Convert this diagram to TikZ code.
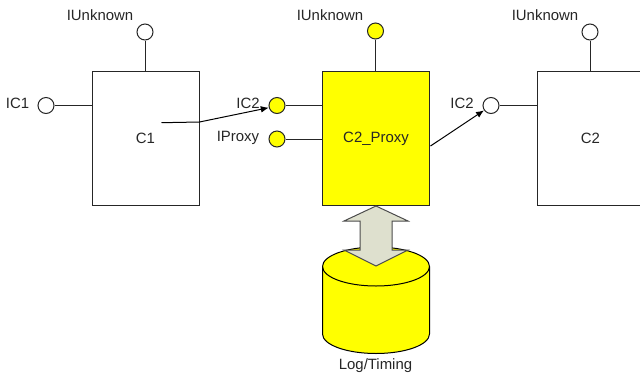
\documentclass[tikz,border=0pt]{standalone}
\usepackage{fontspec}
\setmainfont{Liberation Sans}
\usetikzlibrary{arrows.meta}
\definecolor{logyellow}{RGB}{255,255,0}
\definecolor{pipegrey}{RGB}{222,224,206}

\begin{document}
\begin{tikzpicture}[x=0.75pt,y=-0.75pt,line width=0.75pt,
    comp/.style={draw=black!85,minimum width=80.25pt,minimum height=100.5pt,inner sep=0pt},
    port/.style={circle,draw=black!85,fill=white,minimum size=12pt,inner sep=0pt},
    proxyport/.style={port,fill=logyellow},
    lbl/.style={inner sep=0pt,font=\fontsize{11.2}{13}\selectfont,text=black!85},
    call/.style={-{Latex[length=6pt,width=5pt]},black}]
  \useasboundingbox (0,0) rectangle (640,376);
  % components
  \node[comp,lbl] (C1) at (145.5,138.5) {C1};
  \node[comp,lbl,fill=logyellow] (Proxy) at (376,138.5) {C2\_Proxy};
  \node[comp,lbl] (C2) at (590.5,138.5) {C2};
  % ports
  \node[port] (UnkA) at (145,32) {};
  \node[proxyport] (UnkB) at (375.5,31) {};
  \node[port] (UnkC) at (590,32) {};
  \node[port] (PortIC1) at (46,105.5) {};
  \node[proxyport] (PortIC2) at (277,105.5) {};
  \node[proxyport] (PortProxy) at (277,139) {};
  \node[port] (PortC2) at (491,105.5) {};
  % stubs
  \draw[black!85] (UnkA.south) -- (UnkA.south |- C1.north);
  \draw[black!85] (UnkB.south) -- (UnkB.south |- Proxy.north);
  \draw[black!85] (UnkC.south) -- (UnkC.south |- C2.north);
  \draw[black!85] (PortIC1.east) -- (PortIC1.east -| C1.west);
  \draw[black!85] (PortIC2.east) -- (PortIC2.east -| Proxy.west);
  \draw[black!85] (PortProxy.east) -- (PortProxy.east -| Proxy.west);
  \draw[black!85] (PortC2.east) -- (PortC2.east -| C2.west);
  % labels
  \node[lbl] (LblA) at (100,15) {IUnknown};
  \node[lbl] (LblB) at (330,15) {IUnknown};
  \node[lbl] (LblC) at (545,15) {IUnknown};
  \node[lbl] (LblIC1) at (17.5,103.5) {IC1};
  \node[lbl] (LblIC2) at (248,103.5) {IC2};
  \node[lbl] (LblProxy) at (238,137.5) {IProxy};
  \node[lbl] (LblC2) at (462,103.5) {IC2};
  \node[lbl] (LblLog) at (375.5,366) {Log/Timing};
  % calls
  \coordinate (CallStart) at (161.5,122.7);
  \coordinate (CallKnee) at (199.5,122);
  \coordinate (ProxyOut) at (430.5,146);
  \draw[call] (CallStart) -- (CallKnee) -- (PortIC2.195);
  \draw[call] (ProxyOut) -- (PortC2.215);
  % cylinder
  \draw[fill=logyellow] (322.5,266.5) -- (322.5,334) arc[start angle=180,end angle=360,x radius=53.5,y radius=-19.5]
    -- (429.5,266.5) arc[start angle=0,end angle=180,x radius=53.5,y radius=-19.5] -- cycle;
  \draw (322.5,266.5) arc[start angle=180,end angle=360,x radius=53.5,y radius=-19.5];
  % double arrow
  \draw[draw=black!70,fill=pipegrey]
    (376,206) -- (408,221) -- (392,221) -- (392,250) -- (408,250) -- (376,266)
    -- (344,250) -- (360,250) -- (360,221) -- (344,221) -- cycle;
\end{tikzpicture}
\end{document}
